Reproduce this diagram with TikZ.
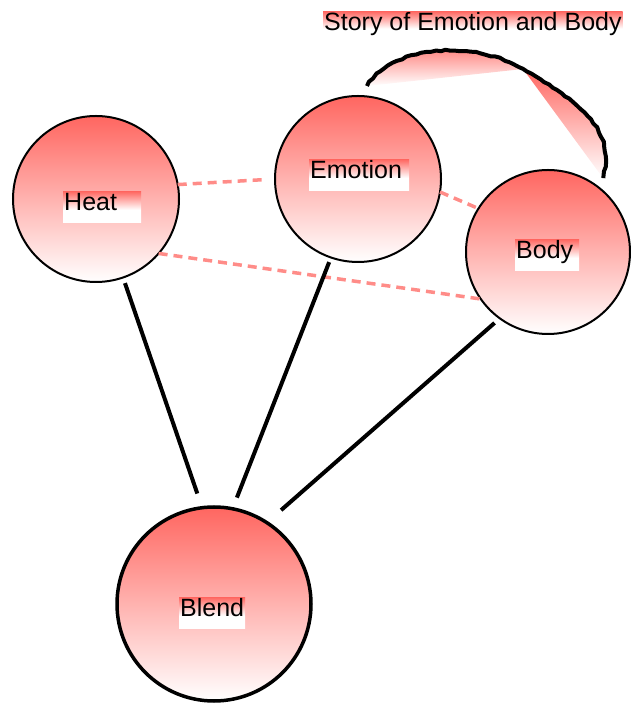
\documentclass[tikz,border=0pt]{standalone}
\usepackage{fontspec}
\setmainfont{Liberation Sans}
\usetikzlibrary{decorations.pathmorphing}
\definecolor{circred}{RGB}{255,102,96}
\pgfdeclareverticalshading{tagfade}{100bp}{color(0bp)=(white); color(25bp)=(white); color(45bp)=(white); color(75bp)=(circred); color(100bp)=(circred)}

\begin{document}
\begin{tikzpicture}[x=1pt,y=1pt,
    idea/.style={circle, draw, line width=2pt, top color=circred, bottom color=white, inner sep=0pt, outer sep=0pt},
    tag/.style={anchor=north west, shade, shading=tagfade, inner xsep=1pt, inner ysep=0pt, text height=19pt, text depth=12pt, align=left, font=\fontsize{25}{30}\selectfont},
    link/.style={line width=4pt},
    echo/.style={line width=3.5pt, circred!75, dash pattern=on 9pt off 6pt},
    story/.style={line width=4pt, line join=round, decorate, decoration={random steps, segment length=5pt, amplitude=0.8pt}}]
        \useasboundingbox (0,0) rectangle (630,706);
        % the four spaces
        \node[idea, minimum size=166pt] (heat) at (96,507) {};
        \node[idea, minimum size=166pt] (emotion) at (358,527) {};
        \node[idea, minimum size=164pt] (body) at (548,454) {};
        \node[idea, minimum size=194pt, line width=3.5pt] (blend) at (214,102) {};
        % story arc over emotion and body
        \coordinate (storyA) at (367,620);
        \coordinate (storyM) at (523,637);
        \coordinate (storyB) at (603,528);
        \shade[top color=circred, bottom color=white] (storyA) .. controls (390,660) and (473,667) .. (storyM) -- cycle;
        \shade[top color=circred, bottom color=white] (storyM) .. controls (585,600) and (615,575) .. (storyB) -- cycle;
        \draw[story] (storyA) .. controls (390,660) and (473,667) .. (storyM) .. controls (585,600) and (615,575) .. (storyB);
        % mappings
        \draw[echo, shorten >=11pt] (heat.10) -- (emotion.180);
        \draw[echo] (heat.-41) -- (body.215);
        \draw[echo] (emotion.-9) -- (body.148);
        \draw[link, shorten <=6pt, shorten >=15pt] (heat.-71) -- (blend.97);
        \draw[link, shorten <=5pt, shorten >=12pt] (emotion.-109) -- (blend.79.5);
        \draw[link, shorten <=7pt, shorten >=19pt] (body.234) -- (blend.57);
        % labels
        \node[tag, text width=76pt] (heattag) at (63,515) {Heat};
        \node[tag, text width=98pt] (emotiontag) at (309,547) {Emotion};
        \node[tag, text width=62pt] (bodytag) at (515,467) {Body};
        \node[tag, text width=64pt] (blendtag) at (179,109) {Blend};
        \node[tag, text depth=10pt] (storytag) at (323,695) {Story of Emotion and Body};
\end{tikzpicture}
\end{document}
